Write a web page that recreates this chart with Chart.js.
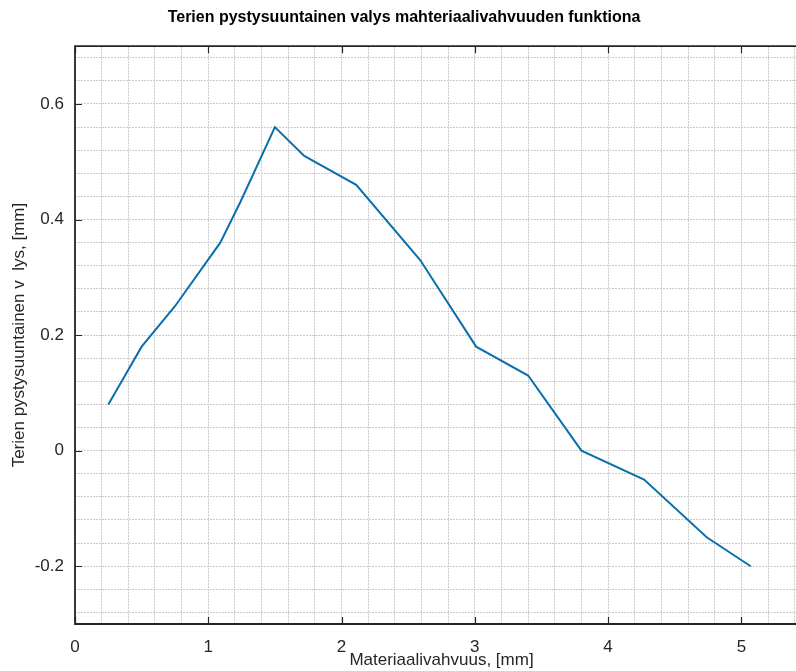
<!DOCTYPE html>
<html>
<head>
<meta charset="utf-8">
<script src="https://cdn.jsdelivr.net/npm/chart.js@4.4.1/dist/chart.umd.min.js"></script>
<style>
  html, body { margin: 0; padding: 0; background: #fff; overflow: hidden; }
  canvas { display: block; }
</style>
</head>
<body>
<canvas id="deflectionChart" width="812" height="671"></canvas>
<script>
// material thickness [mm] vs vertical deflection of the blades [mm]
const thickness = [0.25, 0.5, 0.75, 1.09, 1.24, 1.5, 1.72, 2.11, 2.59, 3.01, 3.4, 3.8, 4.27, 4.74, 5.07];
const deflection = [0.08, 0.18, 0.25, 0.36, 0.43, 0.56, 0.51, 0.46, 0.33, 0.18, 0.13, 0.0, -0.05, -0.15, -0.2];

const xTickValues = [0, 1, 2, 3, 4, 5];
const xTickLabels = ["0", "1", "2", "3", "4", "5"];
const yTickValues = [-0.2, 0, 0.2, 0.4, 0.6];
const yTickLabels = ["-0.2", "0", "0.2", "0.4", "0.6"];

const AXIS_FONT = "'Liberation Sans', Arial, sans-serif";
const TEXT_COLOR = "#262626";

function gridTicks(min, max, step) {
  const out = [];
  for (let k = Math.ceil(min / step - 1e-9); k * step <= max + 1e-9; k++) {
    out.push({ value: +(k * step).toFixed(6) });
  }
  return out;
}

function labelFor(values, labels, v) {
  const i = values.findIndex(t => Math.abs(t - v) < 1e-6);
  return i >= 0 ? labels[i] : "";
}

// MATLAB-style box: left/top/bottom lines with inward ticks
const framePlugin = {
  id: "frame",
  afterDraw(chart) {
    const { ctx, chartArea: a, scales: { x, y } } = chart;
    ctx.save();
    ctx.strokeStyle = TEXT_COLOR;
    ctx.lineWidth = 1.8;
    ctx.beginPath();
    ctx.moveTo(a.right, a.top);
    ctx.lineTo(a.left, a.top);
    ctx.lineTo(a.left, a.bottom);
    ctx.lineTo(a.right, a.bottom);
    ctx.stroke();

    ctx.lineWidth = 1.2;
    ctx.beginPath();
    xTickValues.forEach(v => {
      const px = Math.round(x.getPixelForValue(v)) + 0.5;
      ctx.moveTo(px, a.bottom); ctx.lineTo(px, a.bottom - 7);
      ctx.moveTo(px, a.top); ctx.lineTo(px, a.top + 7);
    });
    yTickValues.forEach(v => {
      const py = Math.round(y.getPixelForValue(v)) + 0.5;
      ctx.moveTo(a.left, py); ctx.lineTo(a.left + 7, py);
    });
    ctx.stroke();
    ctx.restore();
  }
};

const gridStyle = {
  color: "#cbcbcb",
  lineWidth: 1,
  drawTicks: false
};

new Chart(document.getElementById("deflectionChart"), {
  type: "line",
  data: {
    datasets: [{
      data: thickness.map((t, i) => ({ x: t, y: deflection[i] })),
      borderColor: "#0b6fab",
      borderWidth: 2,
      pointRadius: 0,
      tension: 0,
      fill: false
    }]
  },
  options: {
    responsive: false,
    animation: false,
    layout: { padding: { left: 0, right: 4, top: 0, bottom: 0 } },
    plugins: {
      legend: { display: false },
      tooltip: { enabled: false },
      title: {
        display: true,
        text: "Terien pystysuuntainen valys mahteriaalivahvuuden funktiona",
        color: "#000",
        font: { family: "'Liberation Sans', Arial, sans-serif", size: 16, weight: "bold" },
        padding: { top: 8, bottom: 19 }
      }
    },
    scales: {
      x: {
        type: "linear",
        min: 0,
        max: 5.5,
        border: { display: false, dash: [2, 1] },
        grid: gridStyle,
        afterBuildTicks: s => { s.ticks = gridTicks(0, 5.5, 0.2); },
        afterFit: s => { s.height = 47; },
        ticks: {
          autoSkip: false,
          maxRotation: 0,
          padding: 13,
          color: TEXT_COLOR,
          font: { family: AXIS_FONT, size: 17 },
          callback: v => labelFor(xTickValues, xTickLabels, v)
        },
        title: {
          display: true,
          text: "Materiaalivahvuus, [mm]",
          color: TEXT_COLOR,
          font: { family: AXIS_FONT, size: 17 },
          padding: { top: 0, bottom: 0 }
        }
      },
      y: {
        type: "linear",
        min: -0.3,
        max: 0.7,
        border: { display: false, dash: [2, 1] },
        grid: gridStyle,
        afterBuildTicks: s => { s.ticks = gridTicks(-0.3, 0.7, 0.04); },
        afterFit: s => { s.width = 75; },
        ticks: {
          autoSkip: false,
          padding: 11,
          color: TEXT_COLOR,
          font: { family: AXIS_FONT, size: 17 },
          callback: v => labelFor(yTickValues, yTickLabels, v)
        },
        title: {
          display: true,
          text: "Terien pystysuuntainen v  lys, [mm]",
          color: TEXT_COLOR,
          font: { family: AXIS_FONT, size: 17 },
          padding: { top: 9, bottom: 0 }
        }
      }
    }
  },
  plugins: [framePlugin]
});
</script>
</body>
</html>
